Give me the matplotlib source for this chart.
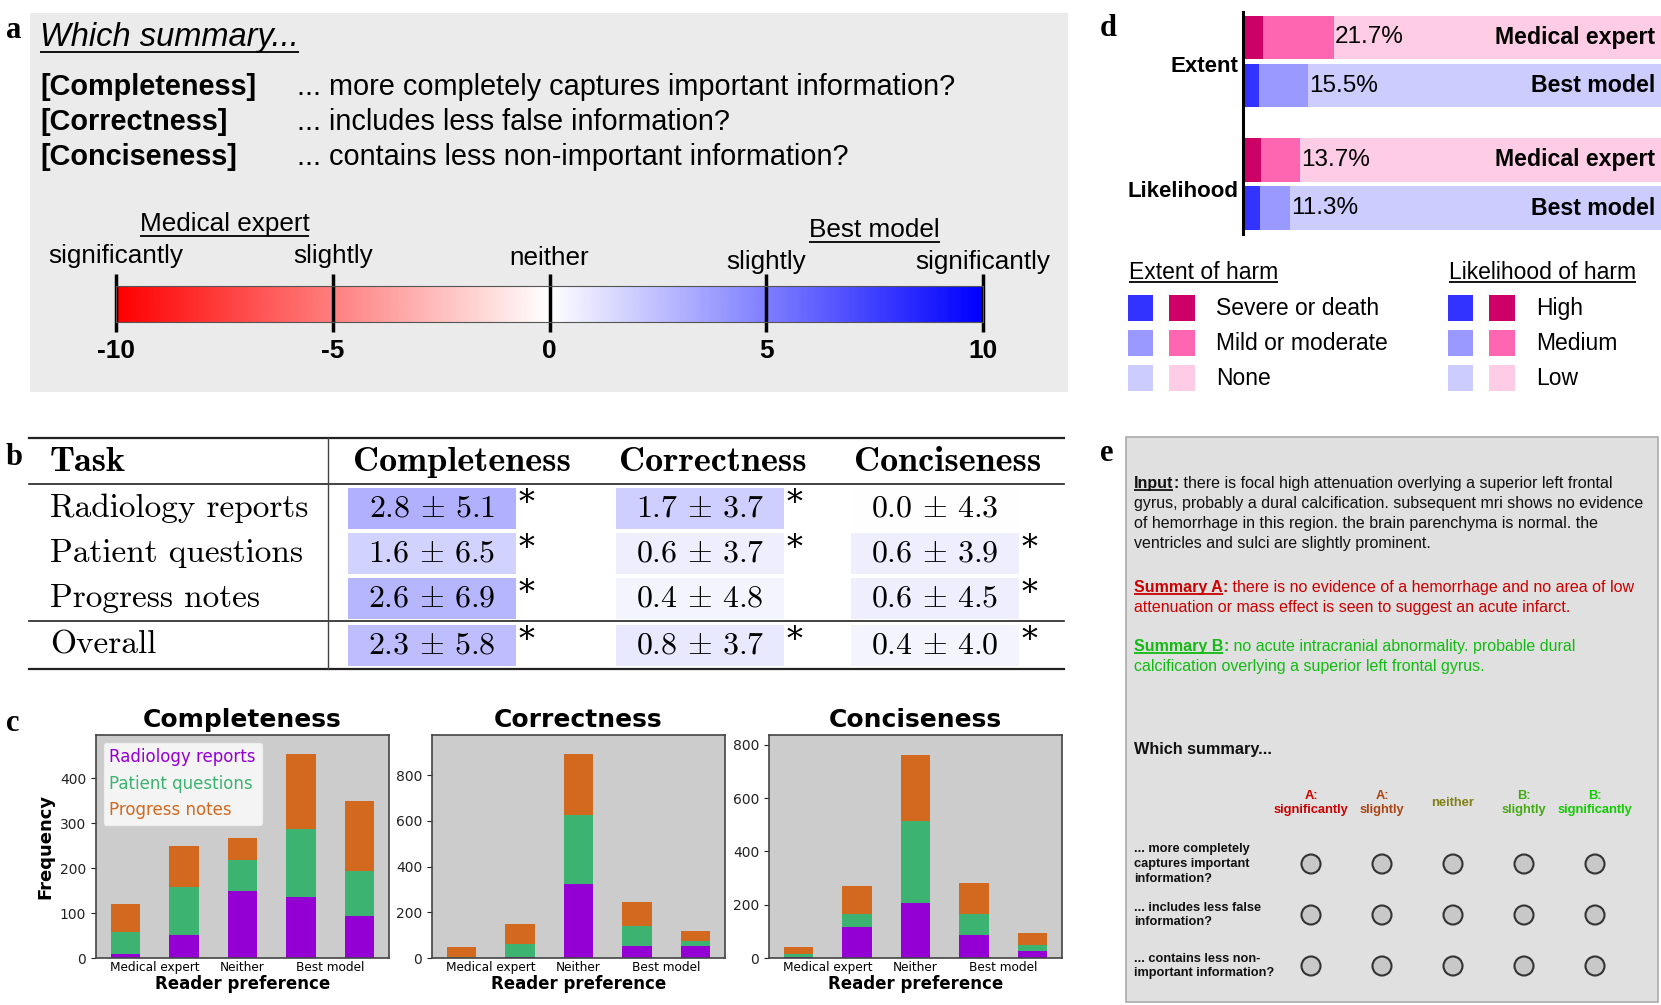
import matplotlib.pyplot as plt
import matplotlib.patches as mpatches
import numpy as np

plt.rcParams['mathtext.fontset'] = 'cm'

W, H = 1661, 1005
SANS = ['Liberation Sans', 'DejaVu Sans']
SERIF = ['Liberation Serif', 'DejaVu Serif']

# ---------------- data ----------------
scale_ticks = [-10, -5, 0, 5, 10]
scale_words = ['significantly', 'slightly', 'neither', 'slightly', 'significantly']

criteria = ['Completeness', 'Correctness', 'Conciseness']
criteria_questions = ['... more completely captures important information?',
                      '... includes less false information?',
                      '... contains less non-important information?']

table_rows = ['Radiology reports', 'Patient questions', 'Progress notes', 'Overall']
table_mean = [[2.8, 1.7, 0.0], [1.6, 0.6, 0.6], [2.6, 0.4, 0.6], [2.3, 0.8, 0.4]]
table_std = [[5.1, 3.7, 4.3], [6.5, 3.7, 3.9], [6.9, 4.8, 4.5], [5.8, 3.7, 4.0]]
table_star = [[1, 1, 0], [1, 1, 1], [1, 0, 1], [1, 1, 1]]

pref_ticks = [0.5, 2, 3.5]
pref_labels = ['Medical expert', 'Neither', 'Best model']
tasks = ['Radiology reports', 'Patient questions', 'Progress notes']
task_colors = ['#9400d3', '#3cb371', '#d2691e']

completeness_radiology = [8, 51, 149, 136, 93]
completeness_patient = [49, 106, 70, 152, 100]
completeness_progress = [63, 93, 47, 165, 156]
correctness_radiology = [2, 5, 322, 52, 51]
correctness_patient = [3, 58, 302, 87, 22]
correctness_progress = [43, 84, 266, 105, 47]
conciseness_radiology = [5, 117, 207, 86, 25]
conciseness_patient = [10, 50, 307, 80, 22]
conciseness_progress = [27, 104, 249, 115, 45]

harm_sources = ['Medical expert', 'Best model']
extent_severe = [4.9, 3.8]
extent_mild = [16.8, 11.7]
likelihood_high = [4.3, 4.1]
likelihood_medium = [9.4, 7.2]
expert_shades = ['#cc0066', '#ff66b2', '#ffcce5']
model_shades = ['#3333ff', '#9999ff', '#ccccff']
extent_levels = ['Severe or death', 'Mild or moderate', 'None']
likelihood_levels = ['High', 'Medium', 'Low']

example_input = ['there is focal high attenuation overlying a superior left frontal',
                 'gyrus, probably a dural calcification. subsequent mri shows no evidence',
                 'of hemorrhage in this region. the brain parenchyma is normal. the',
                 'ventricles and sulci are slightly prominent.']
summary_a = ['there is no evidence of a hemorrhage and no area of low',
             'attenuation or mass effect is seen to suggest an acute infarct.']
summary_b = ['no acute intracranial abnormality. probable dural',
             'calcification overlying a superior left frontal gyrus.']
survey_options = ['A:\nsignificantly', 'A:\nslightly', 'neither', 'B:\nslightly', 'B:\nsignificantly']
option_colors = ['#cc0000', '#aa4411', '#808015', '#44aa11', '#11cc00']
survey_questions = ['... more completely\ncaptures important\ninformation?',
                    '... includes less false\ninformation?',
                    '... contains less non-\nimportant information?']

# ---------------- figure ----------------
fig = plt.figure(figsize=(W / 100, H / 100), dpi=100)
ov = fig.add_axes([0, 0, 1, 1], zorder=-5)
ov.set_xlim(0, W)
ov.set_ylim(H, 0)
ov.axis('off')
R = fig.canvas.get_renderer()


def rect(l, t, r, b):
    return [l / W, 1 - b / H, (r - l) / W, (b - t) / H]


def put(x, y, s, ul=False, **kw):
    kw.setdefault('va', 'center')
    kw.setdefault('family', SANS)
    t = ov.text(x, y, s, **kw)
    bb = t.get_window_extent(R)
    if ul:
        fs = t.get_fontsize() * 100 / 72
        yy = y + 0.45 * fs
        ov.plot([bb.x0, bb.x1], [yy, yy], color=t.get_color(), lw=1.3,
                solid_capstyle='butt')
    return bb


def run(x, y, parts, **kw):
    for s, extra in parts:
        bb = put(x, y, s, **{**kw, **extra})
        x = bb.x1


def letter(x, y, s):
    ov.text(x, y, s, family=SERIF, fontweight='bold', fontsize=22, va='center')


# ---- panel a ----
ov.add_patch(mpatches.Rectangle((30, 13), 1038, 379, fc='#ebebeb', ec='none'))
letter(6, 30, 'a')
put(40, 37, 'Which summary...', ul=True, fontsize=23.5, style='italic')
for i, (c, q) in enumerate(zip(criteria, criteria_questions)):
    y = 87 + 35 * i
    put(40, y, f'[{c}]', fontsize=20.8, fontweight='bold')
    put(297, y, q, fontsize=20.8)

axs = fig.add_axes(rect(116, 286, 983, 322))
grad = np.linspace(-10, 10, 600)[None, :]
axs.imshow(grad, cmap='bwr_r', vmin=-10, vmax=10, extent=[-10, 10, 0, 1], aspect='auto')
axs.set_xlim(-10, 10)
axs.set_ylim(0, 1)
axs.set_yticks([])
axs.set_xticks(scale_ticks, [str(v) for v in scale_ticks], fontweight='bold',
               fontsize=19, family=SANS)
axs.tick_params(axis='x', length=0, pad=12)
for sp in axs.spines.values():
    sp.set_color('#555555')
axs.vlines(scale_ticks, -0.28, 1.33, color='k', lw=2.5, clip_on=False)
word_y = [256, 256, 258, 262, 262]
for v, w, wy in zip(scale_ticks, scale_words, word_y):
    px = axs.transData.transform((v, 0))[0]
    put(px, wy, w, ha='center', fontsize=18.8)
for v, lab, ly in [(-7.5, 'Medical expert', 224), (7.5, 'Best model', 230)]:
    px = axs.transData.transform((v, 0))[0]
    put(px, ly, lab, ul=True, ha='center', fontsize=18.8)

# ---- panel b ----
letter(6, 457, 'b')
row_y = [508, 553, 598, 645]
col_x = [432, 700, 935]
head_x = [462, 713, 948]
for yy, lw in [(438, 1.6), (484, 1.2), (621, 1.2), (669, 1.6)]:
    ov.plot([29, 1064], [yy, yy], color='#222222', lw=lw)
ov.plot([328, 328], [438, 669], color='#444444', lw=1.0)
ov.text(50, 462, 'Task', family='cmb10', fontsize=26, va='center')
for j, c in enumerate(criteria):
    ov.text(head_x[j], 462, c, family='cmb10', fontsize=26, va='center', ha='center')
cmap = plt.get_cmap('bwr_r')
norm = plt.Normalize(-9, 9)
for i, name in enumerate(table_rows):
    ov.text(50, row_y[i], name, family='cmr10', fontsize=24, va='center')
    for j in range(3):
        m, s = table_mean[i][j], table_std[i][j]
        ov.add_patch(mpatches.Rectangle((col_x[j] - 84, row_y[i] - 20.5), 168, 41,
                                        fc=cmap(norm(m)), ec='none'))
        ov.text(col_x[j], row_y[i], rf'${m:.1f} \,\pm\, {s:.1f}$', ha='center',
                va='center', fontsize=23)
        if table_star[i][j]:
            ov.text(col_x[j] + 87, row_y[i] - 5, '*', fontsize=23, va='center',
                    family='DejaVu Serif')

# ---- panel c ----
letter(6, 723, 'c')
c_boxes = [rect(96, 735, 389, 958), rect(432, 735, 725, 958), rect(769, 735, 1062, 958)]
c_data = [(completeness_radiology, completeness_patient, completeness_progress),
          (correctness_radiology, correctness_patient, correctness_progress),
          (conciseness_radiology, conciseness_patient, conciseness_progress)]
c_ylim = [496, 975, 837]
for k in range(3):
    ax = fig.add_axes(c_boxes[k])
    ax.set_facecolor('#cccccc')
    xs = np.arange(5)
    bottom = np.zeros(5)
    for series, name, col in zip(c_data[k], tasks, task_colors):
        ax.bar(xs, series, bottom=bottom, width=0.5, color=col, label=name)
        bottom += np.array(series)
    ax.set_xlim(-0.5, 4.5)
    ax.set_ylim(0, c_ylim[k])
    ax.set_xticks(pref_ticks, pref_labels, fontsize=8.7)
    ax.tick_params(axis='x', length=0, pad=2)
    ax.tick_params(axis='y', labelsize=10, colors='#222222')
    for sp in ax.spines.values():
        sp.set_color('#444444')
        sp.set_linewidth(1.2)
    ax.set_title(criteria[k], fontweight='bold', fontsize=18)
    ax.set_xlabel('Reader preference', fontweight='bold', fontsize=12, labelpad=1)
    if k == 0:
        ax.set_ylabel('Frequency', fontweight='bold', fontsize=13)
        leg = ax.legend(loc='upper left', handlelength=0, handletextpad=0,
                        fontsize=12, borderaxespad=0.4)
        for txt, col in zip(leg.get_texts(), task_colors):
            txt.set_color(col)
        for hnd in leg.legend_handles:
            hnd.set_visible(False)

# ---- panel d ----
letter(1100, 28, 'd')
axd = fig.add_axes(rect(1243, 12, 1661, 234), facecolor='none')
ypos = [0, 1, 2.55, 3.55]
harm_pairs = [(extent_severe, extent_mild), (likelihood_high, likelihood_medium)]
for g, (hi, mid) in enumerate(harm_pairs):
    for s in range(2):
        y = ypos[2 * g + s]
        shades = expert_shades if s == 0 else model_shades
        total = hi[s] + mid[s]
        axd.barh(y, hi[s], color=shades[0], height=0.9)
        axd.barh(y, mid[s], left=hi[s], color=shades[1], height=0.9)
        axd.barh(y, 100 - total, left=total, color=shades[2], height=0.9)
        axd.text(total + 0.3, y, f'{total:.1f}%', va='center', fontsize=17.5, family=SANS)
        axd.text(98.6, y, harm_sources[s], ha='right', va='center', fontsize=16.7,
                 fontweight='bold', family=SANS)
axd.set_xlim(0, 100)
axd.set_ylim(4.09, -0.53)
axd.set_xticks([])
axd.set_yticks([0.55, 3.15], ['Extent', 'Likelihood'], fontweight='bold',
               fontsize=16, family=SANS)
axd.tick_params(axis='y', length=0, pad=3)
for side in ['top', 'right', 'bottom']:
    axd.spines[side].set_visible(False)
axd.spines['left'].set_linewidth(2.2)

for x0, title, levels in [(1128, 'Extent of harm', extent_levels),
                          (1448, 'Likelihood of harm', likelihood_levels)]:
    put(x0 + 1, 272, title, ul=True, fontsize=16.5)
    for r, lev in enumerate(levels):
        yc = 308 + 35 * r
        ov.add_patch(mpatches.Rectangle((x0, yc - 13), 25, 26, fc=model_shades[r], ec='none'))
        ov.add_patch(mpatches.Rectangle((x0 + 41, yc - 13), 26, 26, fc=expert_shades[r], ec='none'))
        put(x0 + 88, yc, lev, fontsize=16.5)

# ---- panel e ----
letter(1100, 453, 'e')
ov.add_patch(mpatches.Rectangle((1126, 437), 532, 565, fc='#e0e0e0', ec='#aaaaaa', lw=1.2))
ex = 1134
fe = 11.5
for i, line in enumerate(example_input):
    y = 483 + 20.3 * i
    if i == 0:
        run(ex, y, [('Input', dict(fontweight='bold', ul=True)),
                    (':', dict(fontweight='bold')), (' ' + line, {})], fontsize=fe, color='#111111')
    else:
        put(ex, y, line, fontsize=fe, color='#111111')
for lines, lab, col, y0 in [(summary_a, 'Summary A', '#cc0000', 587),
                            (summary_b, 'Summary B', '#11bb11', 646)]:
    for i, line in enumerate(lines):
        y = y0 + 20.3 * i
        if i == 0:
            run(ex, y, [(lab, dict(fontweight='bold', ul=True)),
                        (':', dict(fontweight='bold')), (' ' + line, {})], fontsize=fe, color=col)
        else:
            put(ex, y, line, fontsize=fe, color=col)
put(ex, 749, 'Which summary...', fontsize=11.7, fontweight='bold', color='#111111')
opt_x = [1311, 1382, 1453, 1524, 1595]
for x, lab, col in zip(opt_x, survey_options, option_colors):
    put(x, 803, lab, ha='center', fontsize=9.3, fontweight='bold', color=col,
        linespacing=1.3)
q_y = [864, 915, 966]
for y, q in zip(q_y, survey_questions):
    put(ex, y, q, fontsize=9.2, fontweight='bold', color='#111111', linespacing=1.3)
    for x in opt_x:
        ov.add_patch(mpatches.Circle((x, y), 9.5, fc='#c8c8c8', ec='#333333', lw=1.5))

fig.savefig('out.png', dpi=100)
